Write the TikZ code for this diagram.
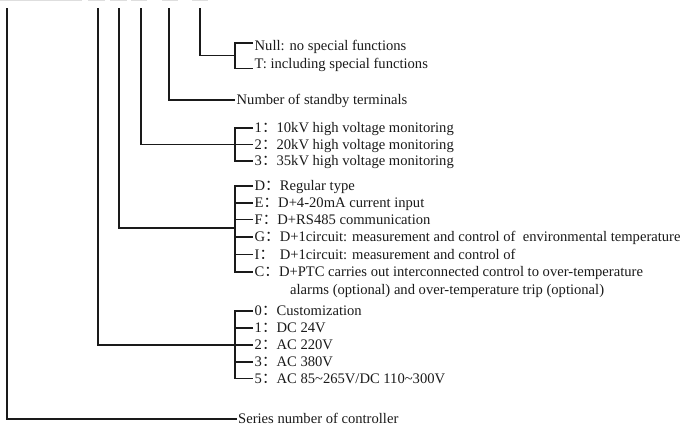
\documentclass[tikz,border=0pt]{standalone}
\usepackage{fontspec}
\setmainfont{Liberation Serif}
\newfontfamily\cjk{Noto Sans CJK SC}
\newcommand{\fwc}{{\cjk ：}}
\definecolor{ink}{HTML}{1A1A1A}
\tikzset{
  lbl/.style={anchor=west, inner sep=1.5pt, text height=12pt, text depth=3pt,
              font=\fontsize{14.6}{17}\selectfont, text=ink},
  conn/.style={draw=ink, line width=1.1pt},
  topbar/.style={draw=black!13, line width=1.3pt}
}
\begin{document}
\begin{tikzpicture}[x=1pt,y=-1pt]
\useasboundingbox (0,0) rectangle (685,426);
% faint code underlines at the top edge
\foreach \a/\b in {0/82,88/105,110/127,131/147,162/178,192/208}
  \draw[topbar] (\a,0.6) -- (\b,0.6);
% tops of the code lines
\coordinate (v1) at (7,8);
\coordinate (v2) at (98,8);
\coordinate (v3) at (119,8);
\coordinate (v4) at (141,8);
\coordinate (v5) at (169,8);
\coordinate (v6) at (200,8);

% group 6: special functions
\node[lbl] (null) at (253,45.5) {Null: no special functions};
\node[lbl] (tsf) at (253,63.5) {T: including special functions};
\coordinate (b6t) at (235,43);
\coordinate (b6b) at (235,68.5);
\coordinate (j6) at (235,55.5);
\draw[conn] (null.west |- b6t) -- (b6t) -- (b6b) -- (tsf.west |- b6b);
\draw[conn] (v6) |- (j6);

% group 5: standby terminals
\node[lbl] (stb) at (235,100) {Number of standby terminals};
\draw[conn] (v5) |- (stb.west);

% group 4: high voltage monitoring
\node[lbl] (hv1) at (253,128) {1\fwc 10kV high voltage monitoring};
\node[lbl] (hv2) at (253,144.5) {2\fwc 20kV high voltage monitoring};
\node[lbl] (hv3) at (253,161) {3\fwc 35kV high voltage monitoring};
\coordinate (b4) at (235,144.5);
\draw[conn] (hv1.west) -- (hv1.west -| b4) -- (hv3.west -| b4) -- (hv3.west);
\draw[conn] (hv2.west) -- (b4);
\draw[conn] (v4) |- (b4);

% group 3: type
\node[lbl] (td) at (253,186) {D\fwc Regular type};
\node[lbl] (te) at (253,203) {E\fwc D+4-20mA current input};
\node[lbl] (tf) at (253,219.5) {F\fwc D+RS485 communication};
\node[lbl] (tg) at (253,237) {G\fwc D+1circuit: measurement and control of~ environmental temperature};
\node[lbl] (ti) at (253,254.5) {I\fwc\hspace{0.39em}D+1circuit: measurement and control of};
\node[lbl] (tc) at (253,272) {C\fwc D+PTC carries out interconnected control to over-temperature};
\node[lbl] (tca) at (288.5,289.5) {alarms (optional) and over-temperature trip (optional)};
\coordinate (b3) at (235,228);
\draw[conn] (td.west) -- (td.west -| b3) -- (tc.west -| b3) -- (tc.west);
\foreach \n in {te,tf,tg,ti} \draw[conn] (\n.west) -- (\n.west -| b3);
\draw[conn] (v3) |- (b3);

% group 2: power supply
\node[lbl] (p0) at (253,311) {0\fwc Customization};
\node[lbl] (p1) at (253,328) {1\fwc DC 24V};
\node[lbl] (p2) at (253,345) {2\fwc AC 220V};
\node[lbl] (p3) at (253,362) {3\fwc AC 380V};
\node[lbl] (p5) at (253,378.5) {5\fwc AC 85\textasciitilde265V/DC 110\textasciitilde300V};
\coordinate (b2) at (235,345);
\draw[conn] (p0.west) -- (p0.west -| b2) -- (p5.west -| b2) -- (p5.west);
\foreach \n in {p1,p2,p3} \draw[conn] (\n.west) -- (\n.west -| b2);
\draw[conn] (v2) |- (b2);

% group 1: series number
\node[lbl] (ser) at (236.5,419) {Series number of controller};
\draw[conn] (v1) |- (ser.west);
\end{tikzpicture}
\end{document}
